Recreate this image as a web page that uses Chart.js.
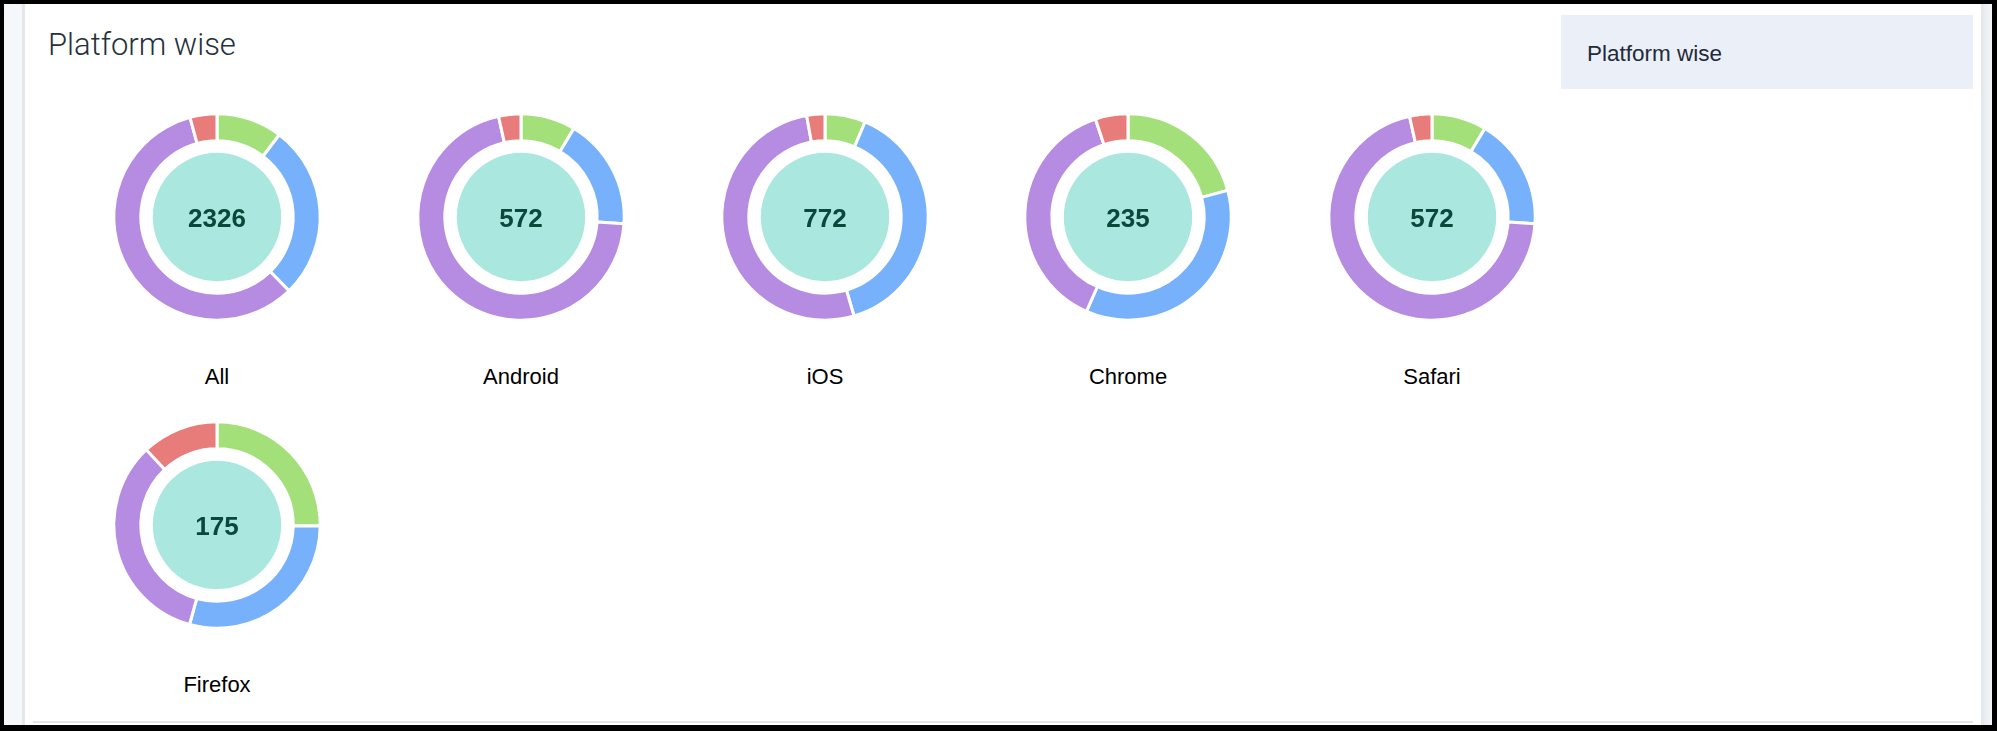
<!DOCTYPE html>
<html><head><meta charset="utf-8">
<script src="https://cdn.jsdelivr.net/npm/chart.js@4.4.1/dist/chart.umd.min.js"></script>
<style>
html,body{margin:0;padding:0;width:1997px;height:731px;overflow:hidden;background:#000;}
#frame{position:absolute;left:4px;top:4px;width:1988px;height:721px;background:#f5f7fa;}
#leftedge{position:absolute;left:22px;top:4px;width:3px;height:721px;background:#e4e7eb;}
#rightedge{position:absolute;left:1981px;top:4px;width:11px;height:721px;background:linear-gradient(to right,#e2e5e9,#eceef2 40%,#f3f5f8);}
#card{position:absolute;left:25px;top:4px;width:1956px;height:721px;background:#fff;}
#bottomline{position:absolute;left:33px;top:721px;width:1940px;height:2px;background:#e1e5e9;}
#title{position:absolute;left:48px;top:29px;font-family:Roboto,"Liberation Sans",sans-serif;font-weight:300;font-size:31px;line-height:31px;color:#25313d;white-space:nowrap;}
#box{position:absolute;left:1561px;top:15px;width:412px;height:74px;background:#ebf0f8;}
#boxtext{position:absolute;left:1587px;top:43px;font-family:"Liberation Sans",Arial,sans-serif;font-size:22.5px;line-height:22px;color:#1f2b38;white-space:nowrap;}
.cell{position:absolute;width:240px;height:240px;}
.num{position:absolute;width:240px;text-align:center;font-family:"Liberation Sans",Arial,sans-serif;font-weight:bold;font-size:26px;line-height:26px;color:#0b473b;}
.lbl{position:absolute;width:240px;text-align:center;font-family:"Liberation Sans",Arial,sans-serif;font-size:22px;line-height:22px;color:#000;white-space:nowrap;}
</style>
</head>
<body>
<div id="frame"></div>
<div id="leftedge"></div>
<div id="rightedge"></div>
<div id="card"></div>
<div id="bottomline"></div>
<div id="title">Platform wise</div>
<div id="box"></div>
<div id="boxtext">Platform wise</div>
<div id="charts"></div>
<script>
// ---- data ----
const platforms = ["All", "Android", "iOS", "Chrome", "Safari", "Firefox"];
const segmentLabels = ["Segment 1", "Segment 2", "Segment 3", "Segment 4"];
const greenValues  = [240, 49, 49, 49, 49, 44];
const blueValues   = [637, 100, 302, 84, 100, 51];
const purpleValues = [1351, 403, 399, 90, 403, 59];
const redValues    = [98, 20, 22, 12, 20, 21];
const segmentColors = ["#a4e07a", "#77b1fb", "#b68be2", "#e87c7a"];

// ---- layout ----
const perRow = 5;
const colStart = 217.3, colStep = 303.6;
const rowStart = 217, rowStep = 308;
const outerR = 103.2, innerR = 76.2, discR = 64.2;

const centerDisc = {
  id: 'centerDisc',
  beforeDatasetsDraw(chart) {
    const arc = chart.getDatasetMeta(0).data[0];
    if (!arc) return;
    const ctx = chart.ctx;
    ctx.save();
    ctx.beginPath();
    ctx.arc(arc.x, arc.y, discR, 0, Math.PI * 2);
    ctx.fillStyle = '#aae7df';
    ctx.fill();
    ctx.restore();
  }
};

const holder = document.getElementById('charts');
platforms.forEach((name, i) => {
  const col = i % perRow, row = Math.floor(i / perRow);
  const cx = Math.round(colStart + col * colStep);
  const cy = rowStart + row * rowStep;
  const values = [greenValues[i], blueValues[i], purpleValues[i], redValues[i]];
  const total = values.reduce((a, b) => a + b, 0);

  const cell = document.createElement('div');
  cell.className = 'cell';
  cell.style.left = (cx - 120) + 'px';
  cell.style.top = (cy - 120) + 'px';
  const canvas = document.createElement('canvas');
  cell.appendChild(canvas);
  holder.appendChild(cell);

  const num = document.createElement('div');
  num.className = 'num';
  num.style.left = (cx - 120) + 'px';
  num.style.top = (cy - 12) + 'px';
  num.textContent = String(total);
  holder.appendChild(num);

  const lbl = document.createElement('div');
  lbl.className = 'lbl';
  lbl.style.left = (cx - 120) + 'px';
  lbl.style.top = (cy + 149) + 'px';
  lbl.textContent = name;
  holder.appendChild(lbl);

  new Chart(canvas, {
    type: 'doughnut',
    data: {
      labels: segmentLabels,
      datasets: [{
        data: values,
        backgroundColor: segmentColors,
        borderColor: '#ffffff',
        borderWidth: 3,
        hoverOffset: 0
      }]
    },
    options: {
      responsive: true,
      maintainAspectRatio: false,
      animation: false,
      radius: outerR,
      cutout: (innerR / outerR * 100) + '%',
      layout: { padding: 0 },
      plugins: { legend: { display: false }, tooltip: { enabled: false }, title: { display: false } },
      events: []
    },
    plugins: [centerDisc]
  });
});
</script>
</body></html>
